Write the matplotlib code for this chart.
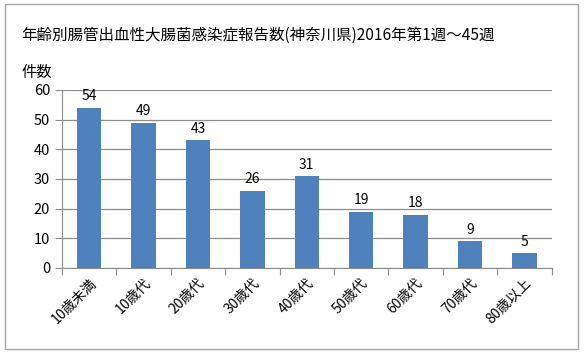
import matplotlib.pyplot as plt
from matplotlib.patches import Rectangle

plt.rcParams['font.family'] = ['Noto Sans CJK JP', 'DejaVu Sans']

ages = ['10歳未満', '10歳代', '20歳代', '30歳代', '40歳代', '50歳代', '60歳代', '70歳代', '80歳以上']
counts = [54, 49, 43, 26, 31, 19, 18, 9, 5]

fig = plt.figure(figsize=(5.87, 3.57), dpi=100)
ax = fig.add_axes([0.1056, 0.2493, 0.834, 0.4987])

bars = ax.bar(range(len(ages)), counts, width=0.45, color='#4F81BD', zorder=3)
for b, v in zip(bars, counts):
    ax.text(b.get_x() + b.get_width() / 2, v + 1.5, str(v), ha='center', va='bottom', fontsize=10)

ax.set_xlim(-0.5, len(ages) - 0.5)
ax.set_ylim(0, 60)
ax.set_yticks(range(0, 61, 10))
ax.yaxis.grid(True, color='#8c8c8c', lw=0.9, zorder=0)
ax.set_xticks([i - 0.5 for i in range(len(ages) + 1)], minor=False)
ax.set_xticklabels([])
ax.set_xticks(range(len(ages)), minor=True)
ax.set_xticklabels(ages, minor=True, rotation=45, ha='right', rotation_mode='anchor', fontsize=10)
ax.tick_params(axis='x', which='minor', length=0, pad=6)
ax.tick_params(axis='x', which='major', length=5, color='#8c8c8c', direction='out')
ax.tick_params(axis='y', length=5, color='#8c8c8c', labelsize=10.5)

for s in ['top', 'right']:
    ax.spines[s].set_visible(False)
for s in ['left', 'bottom']:
    ax.spines[s].set_color('#8c8c8c')

fig.text(0.037, 0.902, '年齢別腸管出血性大腸菌感染症報告数(神奈川県)2016年第1週～45週', fontsize=11.2, va='center')
fig.text(0.037, 0.798, '件数', fontsize=11, va='center')

fig.patches.append(Rectangle((0.008, 0.023), 0.977, 0.965, transform=fig.transFigure,
                             fill=False, edgecolor='#a6a6a6', lw=1))

fig.savefig('out.png')
